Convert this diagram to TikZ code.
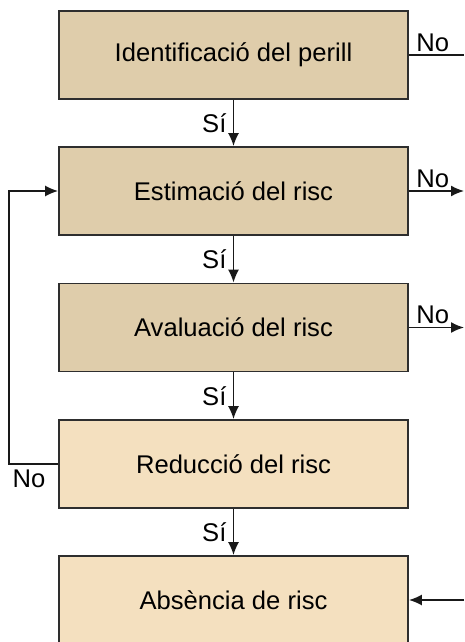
\documentclass[tikz,border=0pt]{standalone}
\usepackage{fontspec}
\setmainfont{Liberation Sans}
\usetikzlibrary{positioning}
\usetikzlibrary{arrows.meta}

\definecolor{tandark}{HTML}{DFCDAB}
\definecolor{tanlight}{HTML}{F4E0BF}
\definecolor{boxline}{HTML}{2E2E2E}

\begin{document}
\begin{tikzpicture}[x=1pt, y=-1pt,
		box style/.style={rectangle, draw=boxline, line width=1.8pt, minimum width=349pt, minimum height=88pt, inner sep=0pt, font=\fontsize{25.6}{30}\selectfont},
		dark box/.style={box style, fill=tandark},
		light box/.style={box style, fill=tanlight},
		edge/.style={draw=black!90, line width=1.6pt},
		arrow edge/.style={edge, -{Latex[length=13pt,width=11pt]}},
		label style/.style={font=\fontsize{25.6}{30}\selectfont}
		]
		\useasboundingbox (0, 0) rectangle (464, 642);
		
		\node[dark box] (ident) at (233.5, 55) {Identificació del perill};
		\node[dark box] (estim) at (233.5, 191) {Estimació del risc};
		\node[dark box] (aval) at (233.5, 327.5) {Avaluació del risc};
		\node[light box] (reduc) at (233.5, 464) {Reducció del risc};
		\node[light box] (absen) at (233.5, 600) {Absència de risc};
		
		% free ends on the right and the loop corner on the left
		\coordinate (out1) at (464, 55);
		\coordinate (out2) at (464, 191);
		\coordinate (out3) at (464, 327.5);
		\coordinate (in5) at (464, 600);
		\coordinate (back) at (9, 464);
		
		\draw[arrow edge] (ident) -- (estim) node[label style, midway, left, xshift=-3pt] {Sí};
		\draw[arrow edge] (estim) -- (aval) node[label style, midway, left, xshift=-3pt] {Sí};
		\draw[arrow edge] (aval) -- (reduc) node[label style, midway, left, xshift=-3pt] {Sí};
		\draw[arrow edge] (reduc) -- (absen) node[label style, midway, left, xshift=-3pt] {Sí};
		
		\draw[edge] (ident.east) -- (out1);
		\node[label style, above right, xshift=4pt] at (ident.east) {No};
		\draw[arrow edge] (estim.east) -- (out2);
		\node[label style, above right, xshift=4pt] at (estim.east) {No};
		\draw[arrow edge] (aval.east) -- (out3);
		\node[label style, above right, xshift=4pt] at (aval.east) {No};
		\draw[arrow edge] (in5) -- (absen.east);
		
		\draw[arrow edge] (reduc.west) -- (back) |- (estim.west);
		\node[label style, below right, yshift=-2pt] at (back) {No};
	\end{tikzpicture}
\end{document}
